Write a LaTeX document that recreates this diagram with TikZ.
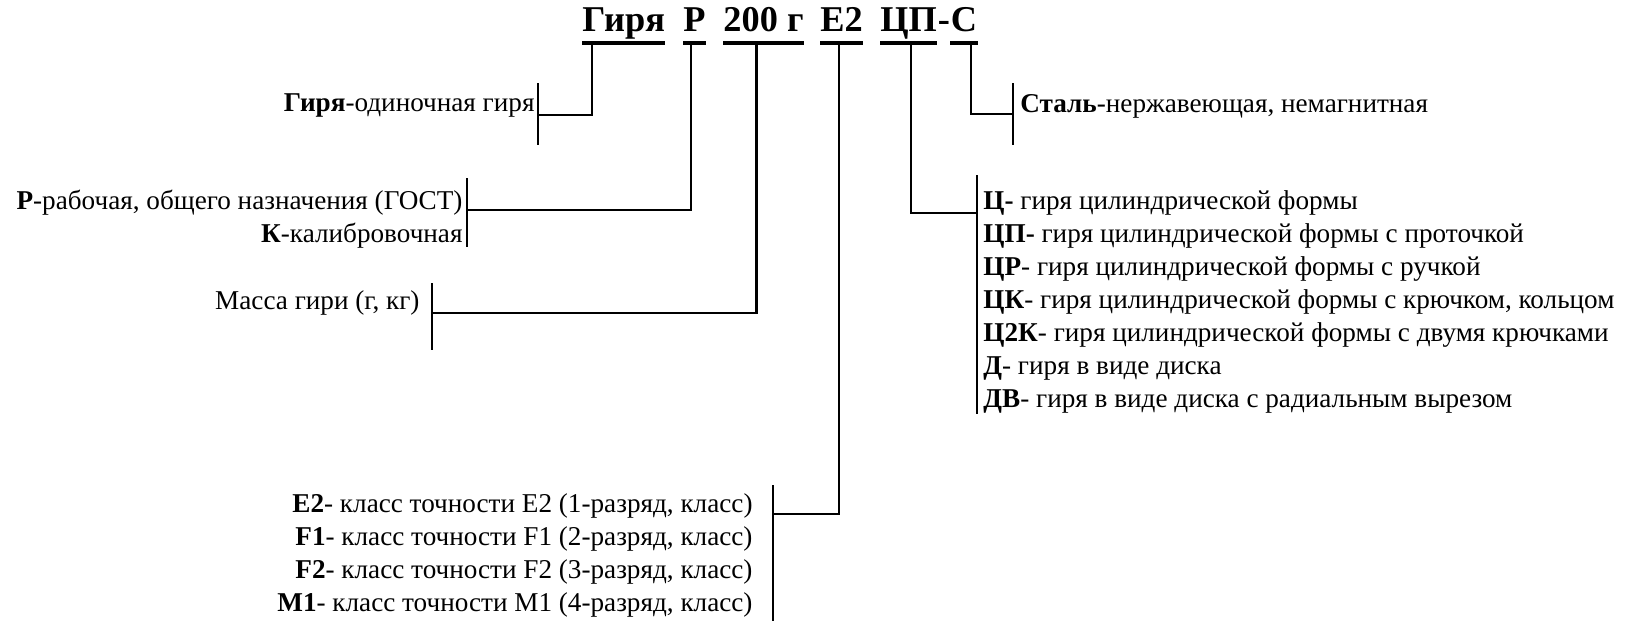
\documentclass[tikz,border=0pt]{standalone}
\usepackage{fontspec}
\setmainfont{Liberation Serif}
\usetikzlibrary{positioning,calc}

\begin{document}
\begin{tikzpicture}[x=0.015cm,y=-0.015cm,
  word/.style={font=\fontsize{15.5}{18}\selectfont\bfseries,inner sep=0pt,anchor=base west},
  item/.style={font=\fontsize{11.6}{14}\selectfont,inner sep=0pt},
  uline/.style={line width=1.6pt},
  conn/.style={line width=0.9pt}]

  \useasboundingbox (0,0) rectangle (1625,621);

  % title words
  \node[word] (t1) at (582,31) {Гиря};
  \node[word] (t2) at (683,31) {Р};
  \node[word] (t3) at (723,31) {200 г};
  \node[word] (t4) at (820,31) {Е2};
  \node[word] (t5) at (880,31) {ЦП};
  \node[word, right=0pt of t5.base east, anchor=base west] (t6) {-};
  \node[word, right=0pt of t6.base east, anchor=base west] (t7) {С};

  \foreach \w in {t1,t2,t3,t4,t5,t7}
    \draw[uline] ($(\w.base west)+(0,12)$) -- ($(\w.base east)+(0,12)$);

  % ticks under the words
  \coordinate (k1) at ($(t1.base west)+(10,13)$);
  \coordinate (k2) at ($(t2.base)+(-4,13)$);
  \coordinate (k3) at ($(t3.base)+(-7,13)$);
  \coordinate (k4) at ($(t4.base)+(-3,13)$);
  \coordinate (k5) at ($(t5.base)+(2,13)$);
  \coordinate (k7) at ($(t7.base)+(7,13)$);

  % bars
  \coordinate (b1a) at (538,83);  \coordinate (b1b) at (538,145);  \coordinate (h1) at (538,115);
  \coordinate (b2a) at (467,178); \coordinate (b2b) at (467,247);  \coordinate (h2) at (467,210);
  \coordinate (b3a) at (432,283); \coordinate (b3b) at (432,350);  \coordinate (h3) at (432,313);
  \coordinate (b4a) at (773,485); \coordinate (b4b) at (773,621);  \coordinate (h4) at (773,514);
  \coordinate (b5a) at (977,175); \coordinate (b5b) at (977,414);  \coordinate (h5) at (977,213);
  \coordinate (b7a) at (1013,83); \coordinate (b7b) at (1013,145); \coordinate (h7) at (1013,114);

  \draw[conn] (b1a) -- (b1b);
  \draw[conn] (b2a) -- (b2b);
  \draw[conn] (b3a) -- (b3b);
  \draw[conn] (b4a) -- (b4b);
  \draw[conn] (b5a) -- (b5b);
  \draw[conn] (b7a) -- (b7b);

  \draw[conn] (k1) |- (h1);
  \draw[conn] (k2) |- (h2);
  \draw[conn] (k3) |- (h3);
  \draw[conn] (k4) |- (h4);
  \draw[conn] (k5) |- (h5);
  \draw[conn] (k7) |- (h7);

  % left texts
  \node[item, anchor=base east] (gir) at (535,111) {\textbf{Гиря}-одиночная гиря};
  \node[item, anchor=base east] (rab) at (463,209) {\textbf{Р}-рабочая, общего назначения (ГОСТ)};
  \node[item, anchor=base east] (kal) at (463,242) {\textbf{К}-калибровочная};
  \node[item, anchor=base east] (mas) at (420,309) {Масса гири (г, кг)};

  \node[item, anchor=base east] (e2) at (753,512) {\textbf{Е2}- класс точности Е2 (1-разряд, класс)};
  \node[item, anchor=base east] (f1) at (753,545) {\textbf{F1}- класс точности F1 (2-разряд, класс)};
  \node[item, anchor=base east] (f2) at (753,578) {\textbf{F2}- класс точности F2 (3-разряд, класс)};
  \node[item, anchor=base east] (m1) at (753,611) {\textbf{М1}- класс точности М1 (4-разряд, класс)};

  % right texts
  \node[item, anchor=base west] (stl) at (1020,112) {\textbf{Сталь}-нержавеющая, немагнитная};

  \node[item, anchor=base west] (c1) at (983,209) {\textbf{Ц-} гиря цилиндрической формы};
  \node[item, anchor=base west] (c2) at (983,242) {\textbf{ЦП-} гиря цилиндрической формы с проточкой};
  \node[item, anchor=base west] (c3) at (983,275) {\textbf{ЦР}- гиря цилиндрической формы с ручкой};
  \node[item, anchor=base west] (c4) at (983,308) {\textbf{ЦК}- гиря цилиндрической формы с крючком, кольцом};
  \node[item, anchor=base west] (c5) at (983,341) {\textbf{Ц2К}- гиря цилиндрической формы с двумя крючками};
  \node[item, anchor=base west] (c6) at (983,374) {\textbf{Д}- гиря в виде диска};
  \node[item, anchor=base west] (c7) at (983,407) {\textbf{ДВ}- гиря в виде диска с радиальным вырезом};
\end{tikzpicture}
\end{document}
